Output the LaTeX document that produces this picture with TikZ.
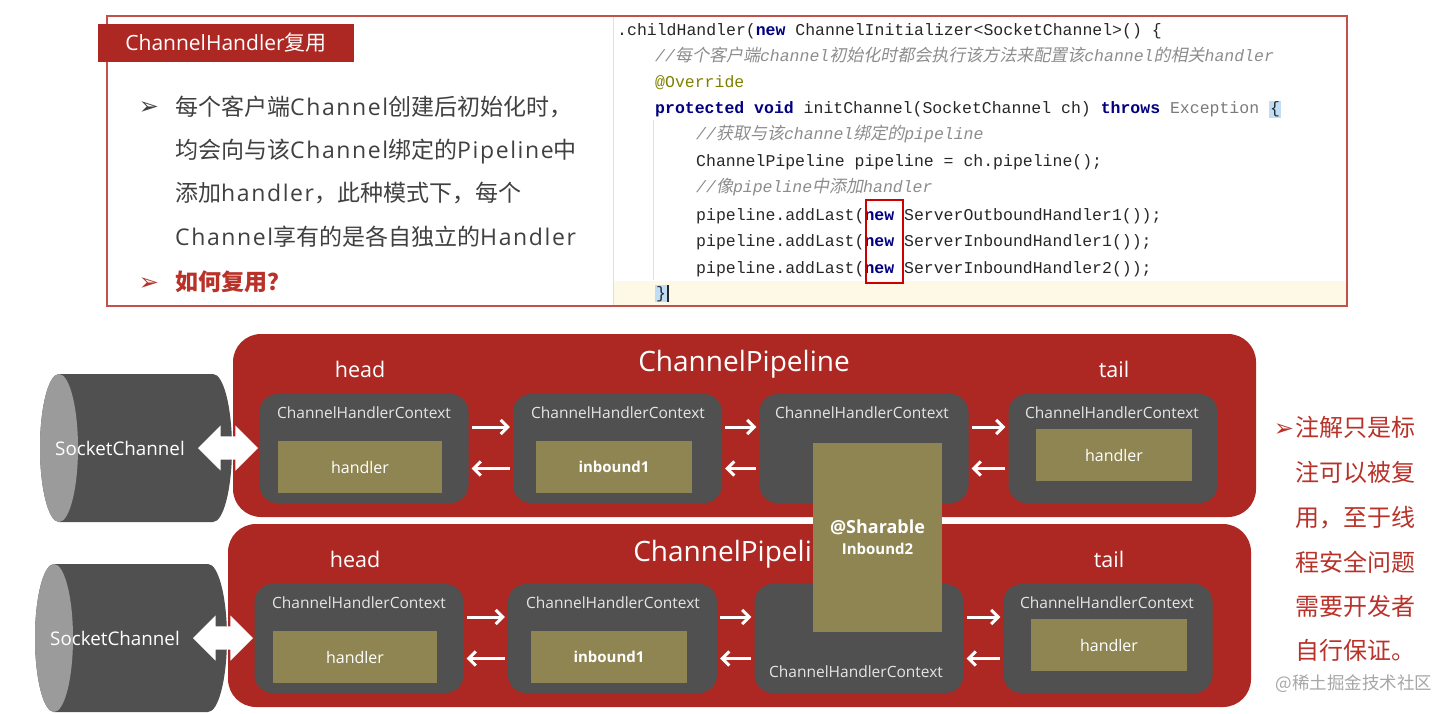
\documentclass[tikz,border=0pt]{standalone}
\usepackage{fontspec}
\setmainfont{Noto Sans CJK SC}
\newfontfamily\latinfont{Open Sans}
\newfontfamily\latinwide[LetterSpace=7]{Open Sans}
\newfontfamily\codefont{Liberation Mono}
\newfontfamily\cjkslant[FakeSlant=0.2]{Noto Sans CJK SC}
\newfontfamily\dingfont{DejaVu Sans}
\usetikzlibrary{positioning}
\usetikzlibrary{arrows.meta}
\usetikzlibrary{shapes.arrows}

\definecolor{pipered}{HTML}{AD2823}
\definecolor{framered}{HTML}{C4504C}
\definecolor{ctxgray}{HTML}{505050}
\definecolor{cylface}{HTML}{9B9B9B}
\definecolor{olive}{HTML}{8E8552}
\definecolor{bodytext}{HTML}{404040}
\definecolor{notered}{HTML}{B8322A}
\definecolor{kwblue}{HTML}{000080}
\definecolor{cmtgray}{HTML}{8C8C8C}
\definecolor{annot}{HTML}{808000}
\definecolor{excgray}{HTML}{7A7A7A}
\definecolor{linebg}{HTML}{FDF9E6}
\definecolor{bracebg}{HTML}{BFDDF5}

\setlength{\fboxsep}{1pt}
\newcommand{\lat}[1]{{\latinwide #1}}
\newcommand{\kw}[1]{{\color{kwblue}\bfseries #1}}
\newcommand{\cmt}[1]{{\color{cmtgray}\itshape #1}}
\newcommand{\cmz}[1]{{\color{cmtgray}\cjkslant\fontsize{17}{20}\selectfont #1}}
\newcommand{\arrowmark}{{\dingfont ➢}}

\begin{document}
\begin{tikzpicture}[%
  x=1pt, y=-1pt,
  >={Straight Barb[length=7pt,width=14pt]},
  pipebox/.style={fill=pipered, rounded corners=28pt, minimum width=1023pt,
    minimum height=183pt, inner sep=0pt},
  ctxbox/.style={fill=ctxgray, rounded corners=18pt, minimum width=209pt,
    minimum height=109pt, inner sep=0pt},
  hdlbox/.style={fill=olive, text=white, minimum width=158pt, minimum height=52pt,
    inner sep=0pt, font=\latinfont\fontsize{16}{18}\selectfont},
  ctxname/.style={text=white!90!black, inner sep=0pt,
    font=\latinfont\fontsize{15.5}{18}\selectfont},
  ctxflow/.style={->, white, line width=3pt, shorten <=3pt, shorten >=3pt},
  linkarrow/.style={double arrow, fill=white, inner xsep=0pt, inner ysep=11.5pt,
    double arrow head extend=11pt, minimum height=60pt},
  plabel/.style={text=white, inner sep=0pt, font=\latinfont\fontsize{21.5}{24}\selectfont},
  ptitle/.style={text=white, inner sep=0pt, font=\latinfont\fontsize{28}{32}\selectfont},
  sockname/.style={text=white, inner sep=0pt, font=\latinfont\fontsize{18.8}{22}\selectfont},
  codeline/.style={anchor=base west, inner sep=0pt, text=black!85,
    font=\codefont\fontsize{16.5}{20}\selectfont},
  codeguide/.style={black!12, line width=0.8pt},
  bodyline/.style={anchor=base west, inner sep=0pt, text=bodytext,
    font=\fontsize{23}{28}\selectfont},
  noteline/.style={anchor=base west, inner sep=0pt, text=notered,
    font=\fontsize{24}{28}\selectfont},
  bulletmark/.style={anchor=base, inner sep=0pt, font=\fontsize{24}{26}\selectfont},
]
  \useasboundingbox (0,0) rectangle (1455,714);

  % top panel
  \draw[framered, line width=1.2pt] (107,16) rectangle (1347,306);
  \fill[linebg] (613,281) rectangle (1346,305);
  \draw[codeguide] (613,17) -- (613,305);
  \draw[codeguide] (653,120) -- (653,280);
  \node[fill=pipered, text=white, minimum width=256pt, minimum height=38pt, inner sep=0pt,
    font=\fontsize{21}{24}\selectfont] (title) at (226,43) {{\latinfont ChannelHandler}复用};

  \node[bulletmark, text=bodytext] (m1) at (149,115) {\arrowmark};
  \node[bodyline] (t1) at (175,115.5) {每个客户端\lat{Channel}创建后初始化时，};
  \node[bodyline] (t2) at (175,158.5) {均会向与该\lat{Channel}绑定的\lat{Pipeline}中};
  \node[bodyline] (t3) at (175,201.5) {添加\lat{handler}，此种模式下，每个};
  \node[bodyline] (t4) at (175,245.5) {\lat{Channel}享有的是各自独立的\lat{Handler}};
  \node[bulletmark, text=notered] (m2) at (149,290) {\arrowmark};
  \node[bodyline, text=notered, font=\bfseries\fontsize{23}{28}\selectfont] (t5) at (175,290.5) {如何复用？};

  % code
  \node[codeline] (code1) at (617,36) {.childHandler(\kw{new} ChannelInitializer<SocketChannel>() \{};
  \node[codeline] (code2) at (655,62) {\cmt{//}\cmz{每个客户端}\cmt{channel}\cmz{初始化时都会执行该方法来配置该}\cmt{channel}\cmz{的相关}\cmt{handler}};
  \node[codeline, text=annot] (code3) at (655,88) {@Override};
  \node[codeline] (code4) at (655,114) {\kw{protected} \kw{void} initChannel(SocketChannel ch) \kw{throws} {\color{excgray}Exception} \colorbox{bracebg}{\{}};
  \node[codeline] (code5) at (696,140) {\cmt{//}\cmz{获取与该}\cmt{channel}\cmz{绑定的}\cmt{pipeline}};
  \node[codeline] (code6) at (696,167) {ChannelPipeline pipeline = ch.pipeline();};
  \node[codeline] (code7) at (696,193) {\cmt{//}\cmz{像}\cmt{pipeline}\cmz{中添加}\cmt{handler}};
  \node[codeline] (code8) at (696,220) {pipeline.addLast(\kw{new} ServerOutboundHandler1());};
  \node[codeline] (code9) at (696,246.5) {pipeline.addLast(\kw{new} ServerInboundHandler1());};
  \node[codeline] (code10) at (696,273) {pipeline.addLast(\kw{new} ServerInboundHandler2());};
  \node[codeline] (code11) at (655,298) {\colorbox{bracebg}{\}}\rule[-4pt]{1.6pt}{17pt}};
  \node[draw=red!80!black, line width=1.5pt, minimum width=37pt, minimum height=83pt,
    inner sep=0pt] (newbox) at (884.5,241.5) {};

  % two pipelines
  \foreach \pl/\dx/\dy in {a/0/0, b/-5/190} {
    \begin{scope}[shift={(\dx,\dy)}]
      \node[pipebox] (pipe\pl) at (744.5,425.5) {};
      \fill[ctxgray] (59,374) -- (213,374)
        arc[start angle=90, end angle=-90, x radius=19pt, y radius=74pt]
        -- (59,522) arc[start angle=270, end angle=90, x radius=19pt, y radius=74pt] -- cycle;
      \fill[cylface] (59,448) ellipse[x radius=19pt, y radius=74pt];
      \node[sockname] (sock\pl) at (120,448) {SocketChannel};
      \node[linkarrow] (link\pl) at (228,448) {};
      \node[plabel] (head\pl) at (360,369) {head};
      \node[ptitle] (ptitle\pl) at (744,364) {ChannelPipeline};
      \node[plabel] (tail\pl) at (1114,369) {tail};

      \node[ctxbox] (c1\pl) at (364,448.5) {};
      \node[ctxbox] (c2\pl) at (617.5,448.5) {};
      \node[ctxbox] (c3\pl) at (864,448.5) {};
      \node[ctxbox] (c4\pl) at (1113,448.5) {};
      \node[ctxname] (cn1\pl) at (364,413) {ChannelHandlerContext};
      \node[ctxname] (cn2\pl) at (618,413) {ChannelHandlerContext};
      \node[ctxname] (cn4\pl) at (1112,413) {ChannelHandlerContext};
      \node[hdlbox, minimum width=164pt] (h1\pl) at (360,467) {handler};
      \node[hdlbox, minimum width=156pt, font=\latinfont\bfseries\fontsize{15}{18}\selectfont] (h2\pl) at (614,467) {inbound1};
      \node[hdlbox, minimum width=156pt] (h4\pl) at (1114,455) {handler};

      \draw[ctxflow] ([yshift=21.5pt]c1\pl.east) -- ([yshift=21.5pt]c2\pl.west);
      \draw[ctxflow] ([yshift=21.5pt]c2\pl.east) -- ([yshift=21.5pt]c3\pl.west);
      \draw[ctxflow] ([yshift=21.5pt]c3\pl.east) -- ([yshift=21.5pt]c4\pl.west);
      \draw[ctxflow] ([yshift=-20pt]c2\pl.west) -- ([yshift=-20pt]c1\pl.east);
      \draw[ctxflow] ([yshift=-20pt]c3\pl.west) -- ([yshift=-20pt]c2\pl.east);
      \draw[ctxflow] ([yshift=-20pt]c4\pl.west) -- ([yshift=-20pt]c3\pl.east);
    \end{scope}
  }
  \node[ctxname] (cn3a) at (862,413) {ChannelHandlerContext};
  \node[ctxname] (cn3b) at (856,672) {ChannelHandlerContext};

  % shared handler
  \node[hdlbox, minimum width=129pt, minimum height=189pt] (shared) at (877.5,537.5) {};
  \node[text=white, align=center, inner sep=0pt,
    font=\latinfont\bfseries\fontsize{18}{21}\selectfont] (sharedname) at (877.5,537)
    {@Sharable\\{\fontsize{15}{17}\selectfont Inbound2}};

  % note
  \node[bulletmark, text=notered] (m3) at (1284,436) {\arrowmark};
  \node[noteline] (n1) at (1295,436) {注解只是标};
  \node[noteline] (n2) at (1295,481) {注可以被复};
  \node[noteline] (n3) at (1295,526) {用，至于线};
  \node[noteline] (n4) at (1295,571) {程安全问题};
  \node[noteline] (n5) at (1295,615) {需要开发者};
  \node[noteline] (n6) at (1295,659) {自行保证。};
  \node[text=black!35, inner sep=0pt, font=\fontsize{17.5}{20}\selectfont] (juejin) at (1354,684) {@稀土掘金技术社区};
\end{tikzpicture}
\end{document}
